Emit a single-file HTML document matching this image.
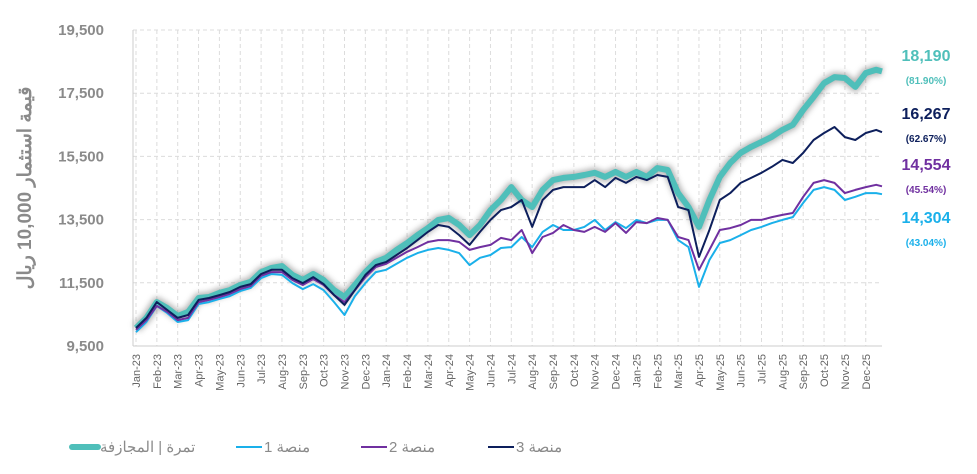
<!DOCTYPE html>
<html><head><meta charset="utf-8"><style>
body{margin:0;background:#fff;}
svg{display:block;font-family:"Liberation Sans","Noto Sans CJK SC",sans-serif;}
</style></head><body>
<svg id="chart" width="977" height="474" viewBox="0 0 977 474">
<defs><filter id="glow" x="-5%" y="-20%" width="110%" height="140%"><feGaussianBlur stdDeviation="3"/></filter></defs>
<g id="grid"></g>
<g id="yaxis"></g>
<g id="xaxis"></g>
<g id="series"></g>
<text transform="translate(31,188) rotate(-90)" text-anchor="middle" font-size="19" font-weight="bold" fill="#8a8a8a">قيمة استثمار 10,000 ريال</text>
<g id="endlabels"></g>
<g id="legend"></g>
</svg>
<script>
const months=["Jan-23","Feb-23","Mar-23","Apr-23","May-23","Jun-23","Jul-23","Aug-23","Sep-23","Oct-23","Nov-23","Dec-23","Jan-24","Feb-24","Mar-24","Apr-24","May-24","Jun-24","Jul-24","Aug-24","Sep-24","Oct-24","Nov-24","Dec-24","Jan-25","Feb-25","Mar-25","Apr-25","May-25","Jun-25","Jul-25","Aug-25","Sep-25","Oct-25","Nov-25","Dec-25"];
const yTicks=[9500,11500,13500,15500,17500,19500];
const tamra=[10070,10390,10890,10700,10450,10580,11020,11050,11180,11270,11430,11530,11840,11970,12030,11750,11590,11780,11590,11270,11050,11430,11840,12160,12290,12540,12760,13010,13230,13490,13550,13330,13010,13330,13800,14120,14530,14120,13900,14440,14750,14820,14850,14910,14980,14850,15010,14850,15010,14850,15130,15070,14340,13900,13270,14120,14850,15290,15610,15800,15960,16120,16340,16500,16970,17380,17820,18010,17980,17700,18140,18240,18190];
const platform3=[10070,10390,10890,10640,10390,10480,10960,11020,11110,11210,11370,11460,11780,11910,11910,11650,11490,11680,11460,11110,10800,11270,11750,12060,12160,12380,12600,12850,13110,13330,13270,13010,12700,13110,13490,13800,13900,14120,13270,14120,14440,14530,14530,14530,14750,14530,14820,14660,14850,14750,14910,14850,13900,13800,12320,13170,14120,14340,14660,14820,14980,15170,15390,15290,15610,16020,16240,16430,16110,16020,16240,16340,16267];
const platform2=[10010,10320,10770,10580,10320,10390,10890,10960,11050,11150,11300,11400,11720,11840,11840,11590,11430,11620,11430,11110,10890,11270,11680,12000,12100,12290,12480,12630,12790,12850,12850,12790,12540,12630,12700,12920,12850,13170,12440,12950,13080,13330,13170,13110,13270,13110,13390,13080,13420,13390,13550,13490,12950,12850,11910,12540,13170,13230,13330,13490,13490,13580,13650,13710,14220,14660,14750,14660,14340,14440,14530,14600,14554];
const platform1=[9940,10260,10770,10540,10260,10320,10830,10890,10990,11080,11240,11340,11650,11780,11750,11490,11300,11460,11270,10890,10480,11080,11490,11840,11910,12100,12290,12440,12540,12600,12540,12440,12060,12290,12380,12600,12630,12950,12630,13110,13330,13170,13170,13270,13490,13170,13420,13230,13490,13390,13490,13490,12850,12630,11370,12220,12760,12850,13010,13170,13270,13390,13490,13580,14030,14440,14530,14440,14120,14220,14340,14340,14304];
const endValues=["18,190","16,267","14,554","14,304"];
const endPercents=["(81.90%)","(62.67%)","(45.54%)","(43.04%)"];

const NS="http://www.w3.org/2000/svg";
const X0=136,MW=20.85,PL=133,PR=882,PT=30,PB=346;
const xm=t=>X0+t*MW;
const xi=(i,n)=>i<n-1?xm(i*0.5):PR;
const y=v=>PB-(v-9500)/10000*(PB-PT);
function mk(tag,attrs,parent){const e=document.createElementNS(NS,tag);for(const k in attrs)e.setAttribute(k,attrs[k]);parent.appendChild(e);return e;}
const grid=document.getElementById('grid'),yax=document.getElementById('yaxis'),xax=document.getElementById('xaxis');
yTicks.forEach(v=>{
  const l=mk('line',{x1:PL,x2:PR,y1:y(v),y2:y(v),stroke:'#dcdcdc','stroke-dasharray':'4,3'},grid);
  
  
  const t=mk('text',{x:104,y:y(v)+5,'text-anchor':'end','font-size':15,'font-weight':'bold',fill:'#8a8a8a'},yax);
  t.textContent=v.toLocaleString('en-US');
  
  
});
months.forEach((m,i)=>{
  const l=mk('line',{x1:xm(i),x2:xm(i),y1:PT,y2:PB,stroke:'#dcdcdc','stroke-dasharray':'4,3'},grid);
  
  
  const t=mk('text',{transform:`translate(${xm(i)+4},354) rotate(-90)`,'text-anchor':'end','font-size':11,fill:'#666'},xax);
  t.textContent=m;
  
  
});
const ax1=mk('line',{x1:PL,x2:PL,y1:PT,y2:PB,stroke:'#ccc'},grid);


const ax2=mk('line',{x1:PL,x2:PR,y1:PB,y2:PB,stroke:'#ccc'},grid);


const ser=document.getElementById('series');
const pts=a=>a.map((v,i)=>xi(i,a.length).toFixed(1)+','+y(v).toFixed(1)).join(' ');
const g1=mk('polyline',{points:pts(tamra),fill:'none',stroke:'#777','stroke-width':10,opacity:0.55,filter:'url(#glow)','stroke-linejoin':'round'},ser);


const s1=mk('polyline',{points:pts(tamra),fill:'none',stroke:'#4fbfba','stroke-width':6,'stroke-linejoin':'round'},ser);


const s4=mk('polyline',{points:pts(platform1),fill:'none',stroke:'#1ab0ea','stroke-width':2,'stroke-linejoin':'round'},ser);


const s3=mk('polyline',{points:pts(platform2),fill:'none',stroke:'#7030a0','stroke-width':2,'stroke-linejoin':'round'},ser);


const s2=mk('polyline',{points:pts(platform3),fill:'none',stroke:'#0d1f5c','stroke-width':2,'stroke-linejoin':'round'},ser);


const el=document.getElementById('endlabels');
const cols=['#4fbfba','#0d1f5c','#7030a0','#1ab0ea'];
const ly=[61,119,170,223];
endValues.forEach((v,i)=>{
  const a=mk('text',{x:926,y:ly[i],'text-anchor':'middle','font-size':16,'font-weight':'bold',fill:cols[i]},el);
  a.textContent=v;
  
  
  const b=mk('text',{x:926,y:ly[i]+23,'text-anchor':'middle','font-size':10,'font-weight':'bold',fill:cols[i]},el);
  b.textContent=endPercents[i];
  
  
});
const lg=document.getElementById('legend');
const items=[["تمرة | المجازفة",'#4fbfba',72,6],["منصة 1",'#1ab0ea',236,2],["منصة 2",'#7030a0',361,2],["منصة 3",'#0d1f5c',488,2]];
items.forEach(([txt,c,x,w])=>{
  const l=mk('line',{x1:x,x2:x+26,y1:447,y2:447,stroke:c,'stroke-width':w,'stroke-linecap':w>3?'round':'butt'},lg);
  
  
  const t=mk('text',{x:x+28,y:452,'font-size':15,fill:'#8a8a8a','text-anchor':'end',direction:'rtl'},lg);
  t.textContent=txt;
  
  
});
</script>
</body></html>
